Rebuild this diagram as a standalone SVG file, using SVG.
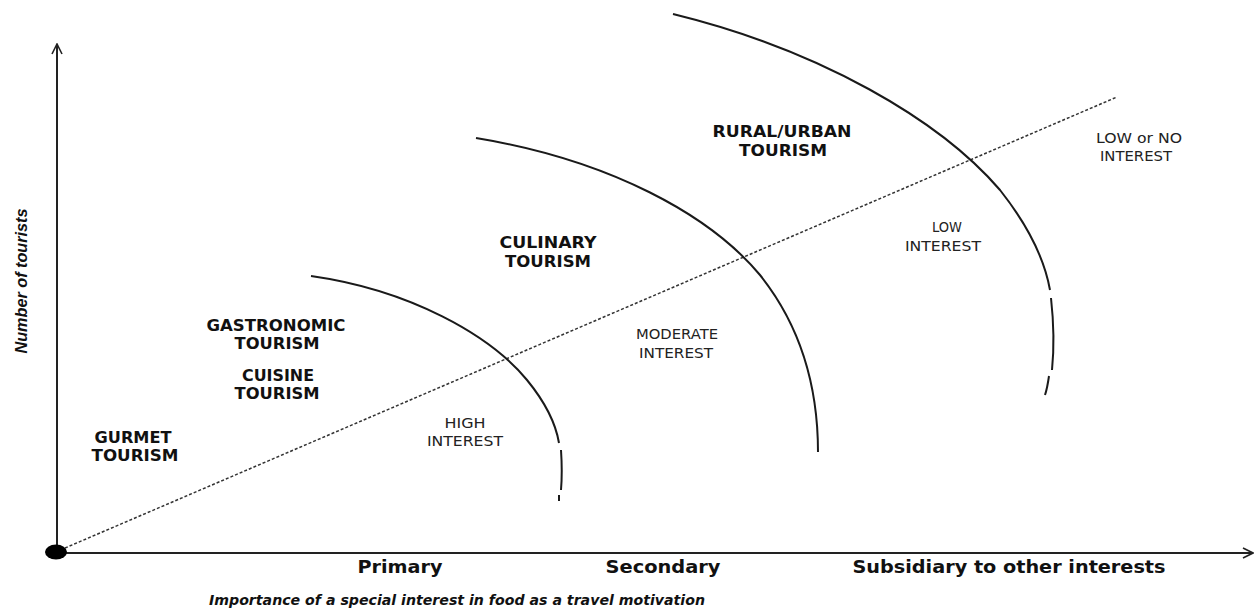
<svg xmlns="http://www.w3.org/2000/svg" width="1259" height="612" viewBox="0 0 1259 612">
<defs>
<marker id="arr" viewBox="0 0 12 12" refX="11" refY="6" markerWidth="12" markerHeight="12" markerUnits="userSpaceOnUse" orient="auto">
<path d="M1,1 L11,6 L1,11" fill="none" stroke="#222" stroke-width="1.6"/>
</marker>
<style>
.ax{stroke:#222;stroke-width:2;fill:none}
.arc{stroke:#1a1a1a;stroke-width:2;fill:none}
.diag{stroke:#333;stroke-width:1.5;stroke-dasharray:3 2;fill:none}
.b{font-family:"DejaVu Sans",sans-serif;font-weight:bold;font-size:15.5px;fill:#111;text-anchor:middle}
.r{font-family:"DejaVu Sans",sans-serif;font-size:13.5px;fill:#222;text-anchor:middle}
.xl{font-family:"DejaVu Sans",sans-serif;font-weight:bold;font-size:18.5px;fill:#111;text-anchor:middle}
.it{font-family:"DejaVu Sans",sans-serif;font-weight:bold;font-style:italic;font-size:14px;fill:#111;text-anchor:middle}
.yl{font-family:"Liberation Sans",sans-serif;font-weight:bold;font-style:italic;font-size:17px;fill:#111;text-anchor:middle}
</style>
</defs>
<g id="connectors">
<line class="ax" x1="57" y1="553" x2="57" y2="44" marker-end="url(#arr)"/>
<line class="ax" x1="57" y1="553" x2="1253" y2="553" marker-end="url(#arr)"/>
<line class="diag" x1="65" y1="548" x2="1117" y2="97"/>
<path class="arc" d="M311,276 C410,290 490,335 527,380 C545,402 556,425 559,443"/>
<path class="arc" d="M561,450 C562,465 562,478 561,490"/>
<path class="arc" d="M559,495 L559,501"/>
<path class="arc" d="M476,138 C610,160 710,215 760,275 C800,325 818,385 818,452"/>
<path class="arc" d="M673,14 C820,50 940,120 1000,190 C1030,228 1045,262 1050,290"/>
<path class="arc" d="M1051,298 C1054,325 1054,350 1052,370"/>
<path class="arc" d="M1049,376 C1048,383 1047,389 1045,395"/>
</g>
<g id="origin"><ellipse cx="56" cy="552" rx="11" ry="7.5" fill="#000"/></g>
<g id="gurmet"><text class="b" x="133" y="443" textLength="77" lengthAdjust="spacingAndGlyphs">GURMET</text><text class="b" x="135" y="461" textLength="87" lengthAdjust="spacingAndGlyphs">TOURISM</text></g>
<g id="gastronomic"><text class="b" x="276" y="331" textLength="139" lengthAdjust="spacingAndGlyphs">GASTRONOMIC</text><text class="b" x="277" y="349" textLength="85" lengthAdjust="spacingAndGlyphs">TOURISM</text></g>
<g id="cuisine"><text class="b" x="278" y="381" textLength="72" lengthAdjust="spacingAndGlyphs">CUISINE</text><text class="b" x="277" y="399" textLength="85" lengthAdjust="spacingAndGlyphs">TOURISM</text></g>
<g id="culinary"><text class="b" x="548" y="248" textLength="97" lengthAdjust="spacingAndGlyphs">CULINARY</text><text class="b" x="548" y="267" textLength="86" lengthAdjust="spacingAndGlyphs">TOURISM</text></g>
<g id="rural"><text class="b" x="782" y="137" textLength="139" lengthAdjust="spacingAndGlyphs">RURAL/URBAN</text><text class="b" x="783" y="156" textLength="88" lengthAdjust="spacingAndGlyphs">TOURISM</text></g>
<g id="high"><text class="r" x="465" y="428" textLength="41" lengthAdjust="spacingAndGlyphs">HIGH</text><text class="r" x="465" y="446" textLength="76" lengthAdjust="spacingAndGlyphs">INTEREST</text></g>
<g id="moderate"><text class="r" x="677" y="339" textLength="82" lengthAdjust="spacingAndGlyphs">MODERATE</text><text class="r" x="676" y="358" textLength="74" lengthAdjust="spacingAndGlyphs">INTEREST</text></g>
<g id="low"><text class="r" x="947" y="232" textLength="30" lengthAdjust="spacingAndGlyphs">LOW</text><text class="r" x="943" y="251" textLength="76" lengthAdjust="spacingAndGlyphs">INTEREST</text></g>
<g id="lowno"><text class="r" x="1139" y="143" textLength="86" lengthAdjust="spacingAndGlyphs">LOW or NO</text><text class="r" x="1136" y="161" textLength="72" lengthAdjust="spacingAndGlyphs">INTEREST</text></g>
<g id="xlabels">
<text class="xl" x="400" y="573" textLength="85" lengthAdjust="spacingAndGlyphs">Primary</text>
<text class="xl" x="663" y="573" textLength="115" lengthAdjust="spacingAndGlyphs">Secondary</text>
<text class="xl" x="1009" y="573" textLength="313" lengthAdjust="spacingAndGlyphs">Subsidiary to other interests</text>
<text class="it" x="457" y="605" textLength="496" lengthAdjust="spacingAndGlyphs">Importance of a special interest in food as a travel motivation</text>
</g>
<g id="ylabel"><text class="yl" transform="translate(27,281) rotate(-90)" textLength="145" lengthAdjust="spacingAndGlyphs">Number of tourists</text></g>
</svg>
